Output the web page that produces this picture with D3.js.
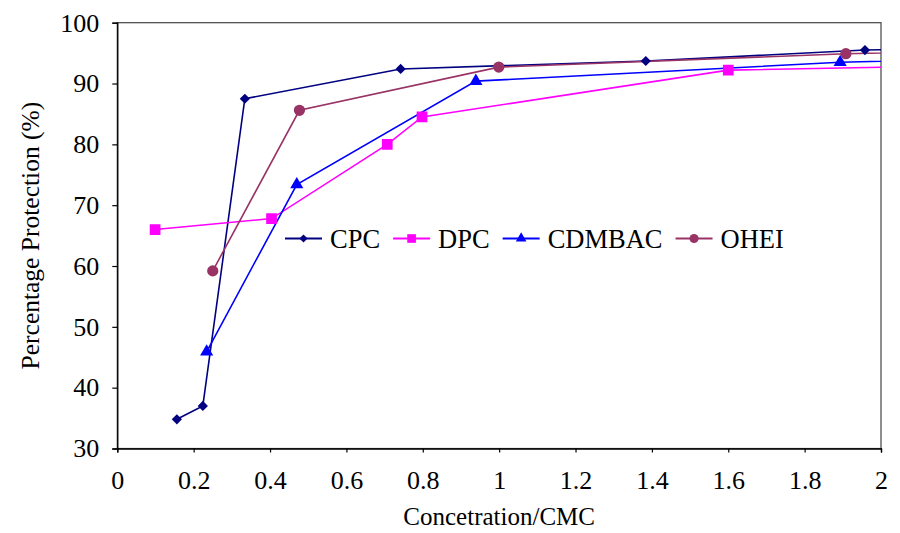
<!DOCTYPE html>
<html>
<head>
<meta charset="utf-8">
<script src="https://cdn.jsdelivr.net/npm/d3@7"></script>
<style>
  html, body { margin: 0; padding: 0; background: #fff; }
  svg { display: block; }
  text { font-family: "Liberation Serif", "Times New Roman", serif; fill: #000; }
</style>
</head>
<body>
<svg id="chart" width="900" height="533"></svg>
<script>
// Concentration (relative to CMC) vs. percentage protection for four surfactants
const seriesNames = ["CPC", "DPC", "CDMBAC", "OHEI"];
const cpcX    = [0.156, 0.224, 0.334, 0.742, 1.384, 1.958, 2.2];
const cpcY    = [34.8, 37.0, 87.5, 92.4, 93.7, 95.5, 95.8];
const dpcX    = [0.099, 0.404, 0.707, 0.798, 1.600, 2.2];
const dpcY    = [66.0, 67.8, 80.0, 84.5, 92.2, 92.9];
const cdmbacX = [0.234, 0.470, 0.939, 1.893, 2.2];
const cdmbacY = [45.9, 73.4, 90.4, 93.5, 94.0];
const oheiX   = [0.250, 0.477, 0.999, 1.908, 2.2];
const oheiY   = [59.2, 85.6, 92.7, 94.9, 95.3];
const xTicks = [0, 0.2, 0.4, 0.6, 0.8, 1, 1.2, 1.4, 1.6, 1.8, 2];
const yTicks = [30, 40, 50, 60, 70, 80, 90, 100];

const colors  = ["#000080", "#FF00FF", "#0000FF", "#993366"];
// diamond is drawn as a square turned 45 degrees
const symbols = [d3.symbolSquare, d3.symbolSquare, d3.symbolTriangle, d3.symbolCircle];
const symRot  = [45, 0, 0, 0];
const symSize = [52, 115, 75, 100];

const series = [
  { name: seriesNames[0], xs: cpcX, ys: cpcY },
  { name: seriesNames[1], xs: dpcX, ys: dpcY },
  { name: seriesNames[2], xs: cdmbacX, ys: cdmbacY },
  { name: seriesNames[3], xs: oheiX, ys: oheiY }
].map((s, i) => ({ ...s, color: colors[i], symbol: symbols[i], size: symSize[i], rot: symRot[i],
  points: s.xs.map((x, j) => ({ x, y: s.ys[j] })) }));

const svg = d3.select("#chart");
const m = { left: 117.3, right: 881, top: 22.7, bottom: 448.5 };

const x = d3.scaleLinear().domain([0, 2]).range([m.left, m.right]);
const y = d3.scaleLinear().domain([30, 100]).range([m.bottom, m.top]);

svg.append("defs").append("clipPath").attr("id", "plotClip")
  .append("rect").attr("x", m.left).attr("y", m.top)
  .attr("width", m.right - m.left).attr("height", m.bottom - m.top);

// plot frame
svg.append("rect")
  .attr("x", m.left).attr("y", m.top)
  .attr("width", m.right - m.left).attr("height", m.bottom - m.top)
  .attr("fill", "none").attr("stroke", "#444").attr("stroke-width", 1.2);

// axes
const xAxis = svg.append("g").attr("transform", `translate(0,${m.bottom})`)
  .call(d3.axisBottom(x).tickValues(xTicks).tickFormat(d => String(d)).tickSize(4).tickPadding(18));
const yAxis = svg.append("g").attr("transform", `translate(${m.left},0)`)
  .call(d3.axisLeft(y).tickValues(yTicks).tickFormat(d => String(d)).tickSize(5).tickPadding(13));

[xAxis, yAxis].forEach(a => {
  a.select(".domain").attr("stroke", "#000").attr("stroke-width", 1.3);
  a.selectAll(".tick line").attr("stroke", "#000").attr("stroke-width", 1.2);
  a.selectAll(".tick text")
    .style("font-family", '"Liberation Serif", "Times New Roman", serif')
    .style("font-size", "26px").attr("fill", "#000");
});

// axis titles
svg.append("text")
  .attr("x", (m.left + m.right) / 2).attr("y", 525)
  .attr("text-anchor", "middle").style("font-size", "25px")
  .text("Concetration/CMC");
svg.append("text")
  .attr("transform", `translate(39,${(m.top + m.bottom) / 2}) rotate(-90)`)
  .attr("text-anchor", "middle").style("font-size", "25.5px")
  .text("Percentage Protection (%)");

// series lines and markers
const plot = svg.append("g").attr("clip-path", "url(#plotClip)");
const line = d3.line().x(d => x(d.x)).y(d => y(d.y));

series.forEach(s => {
  plot.append("path").datum(s.points)
    .attr("d", line).attr("fill", "none")
    .attr("stroke", s.color).attr("stroke-width", 1.6);
});
series.forEach(s => {
  plot.selectAll(null).data(s.points).enter().append("path")
    .attr("transform", d => `translate(${x(d.x)},${y(d.y)}) rotate(${s.rot})`)
    .attr("d", d3.symbol().type(s.symbol).size(s.size))
    .attr("fill", s.color);
});

// legend
const legend = svg.append("g");
let lx = 285;
const ly = 238.5;
series.forEach(s => {
  legend.append("line").attr("x1", lx).attr("x2", lx + 37)
    .attr("y1", ly).attr("y2", ly)
    .attr("stroke", s.color).attr("stroke-width", 2.2);
  legend.append("path")
    .attr("transform", `translate(${lx + 18.5},${ly}) rotate(${s.rot})`)
    .attr("d", d3.symbol().type(s.symbol).size(s.size * 0.65))
    .attr("fill", s.color);
  const t = legend.append("text").attr("x", lx + 45).attr("y", ly + 9)
    .style("font-size", "26.5px").text(s.name);
  lx = lx + 45 + t.node().getComputedTextLength() + 13;
});
</script>
</body>
</html>
